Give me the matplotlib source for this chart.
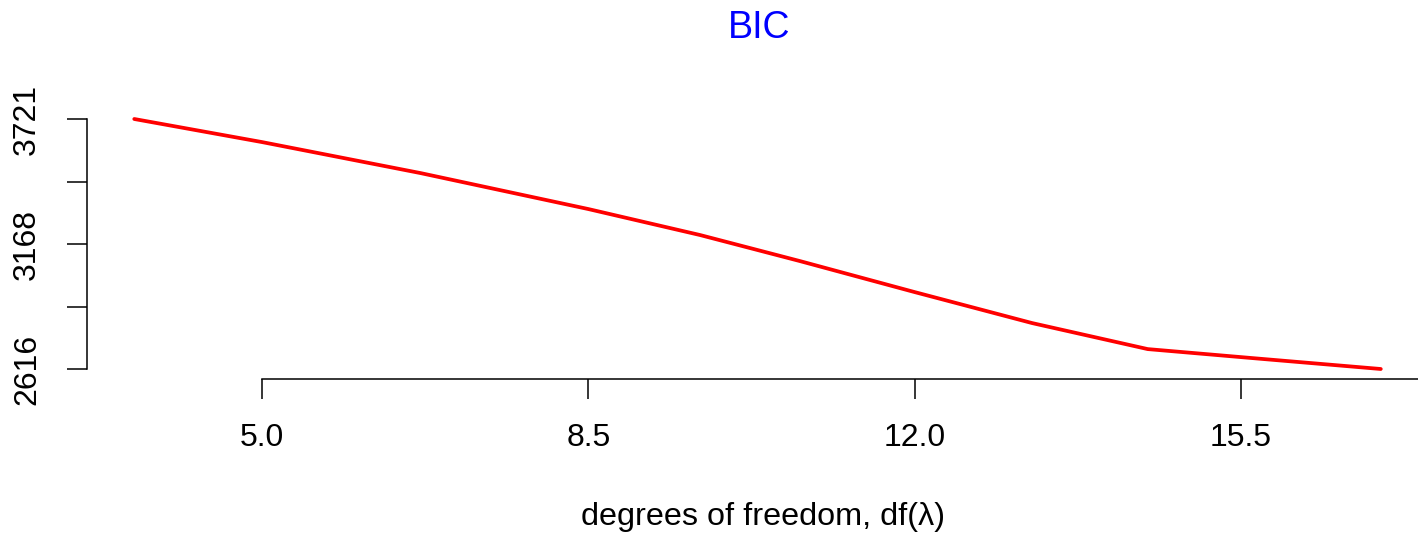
import matplotlib.pyplot as plt
import numpy as np

# BIC path
df_vals = [3.63, 5.0, 6.70, 8.5, 9.70, 10.77, 12.0, 13.26, 14.50, 15.60, 17.0]
bic_vals = [3721, 3619, 3482, 3323, 3208, 3093, 2956, 2819, 2704, 2665, 2616]

xticks = [5.0, 8.5, 12.0, 15.5]
xtick_labels = ['5.0', '8.5', '12.0', '15.5']
yticks = np.linspace(2616, 3721, 5)
ytick_labels = ['2616', '', '3168', '', '3721']

plt.rcParams['font.family'] = ['Liberation Sans', 'DejaVu Sans']

W, H = 1418, 538
fig = plt.figure(figsize=(W / 100, H / 100), dpi=100)
# plot region in pixels: left 87, right ~1433 (runs past the image), top 109, bottom 379
ax = fig.add_axes([87 / W, (H - 379) / H, (1433 - 87) / W, (379 - 109) / H])

ax.plot(df_vals, bic_vals, color='#ff0000', linewidth=2.7, solid_capstyle='round')

ax.set_xlim(3.123, 17.56)
ax.set_ylim(2571.8, 3765.2)

for s in ['top', 'right']:
    ax.spines[s].set_visible(False)
ax.spines['bottom'].set_bounds(5.0, 17.56)
ax.spines['left'].set_bounds(2616, 3721)
ax.spines['bottom'].set_linewidth(1.1)
ax.spines['left'].set_linewidth(1.1)

ax.set_xticks(xticks)
ax.set_xticklabels(xtick_labels)
ax.set_yticks(yticks)
ax.set_yticklabels(ytick_labels, rotation=90, va='center')
ax.tick_params(axis='both', length=14.4, width=1.1, labelsize=23)
ax.tick_params(axis='x', pad=17)
ax.tick_params(axis='y', pad=18)

fig.text(759 / W, 1 - 28 / H, 'BIC', color='#0000ff', fontsize=27,
         ha='center', va='center')
fig.text(763 / W, 1 - 517 / H, 'degrees of freedom, df(λ)', fontsize=23.3,
         ha='center', va='center')

fig.savefig('out.png', dpi=100)
